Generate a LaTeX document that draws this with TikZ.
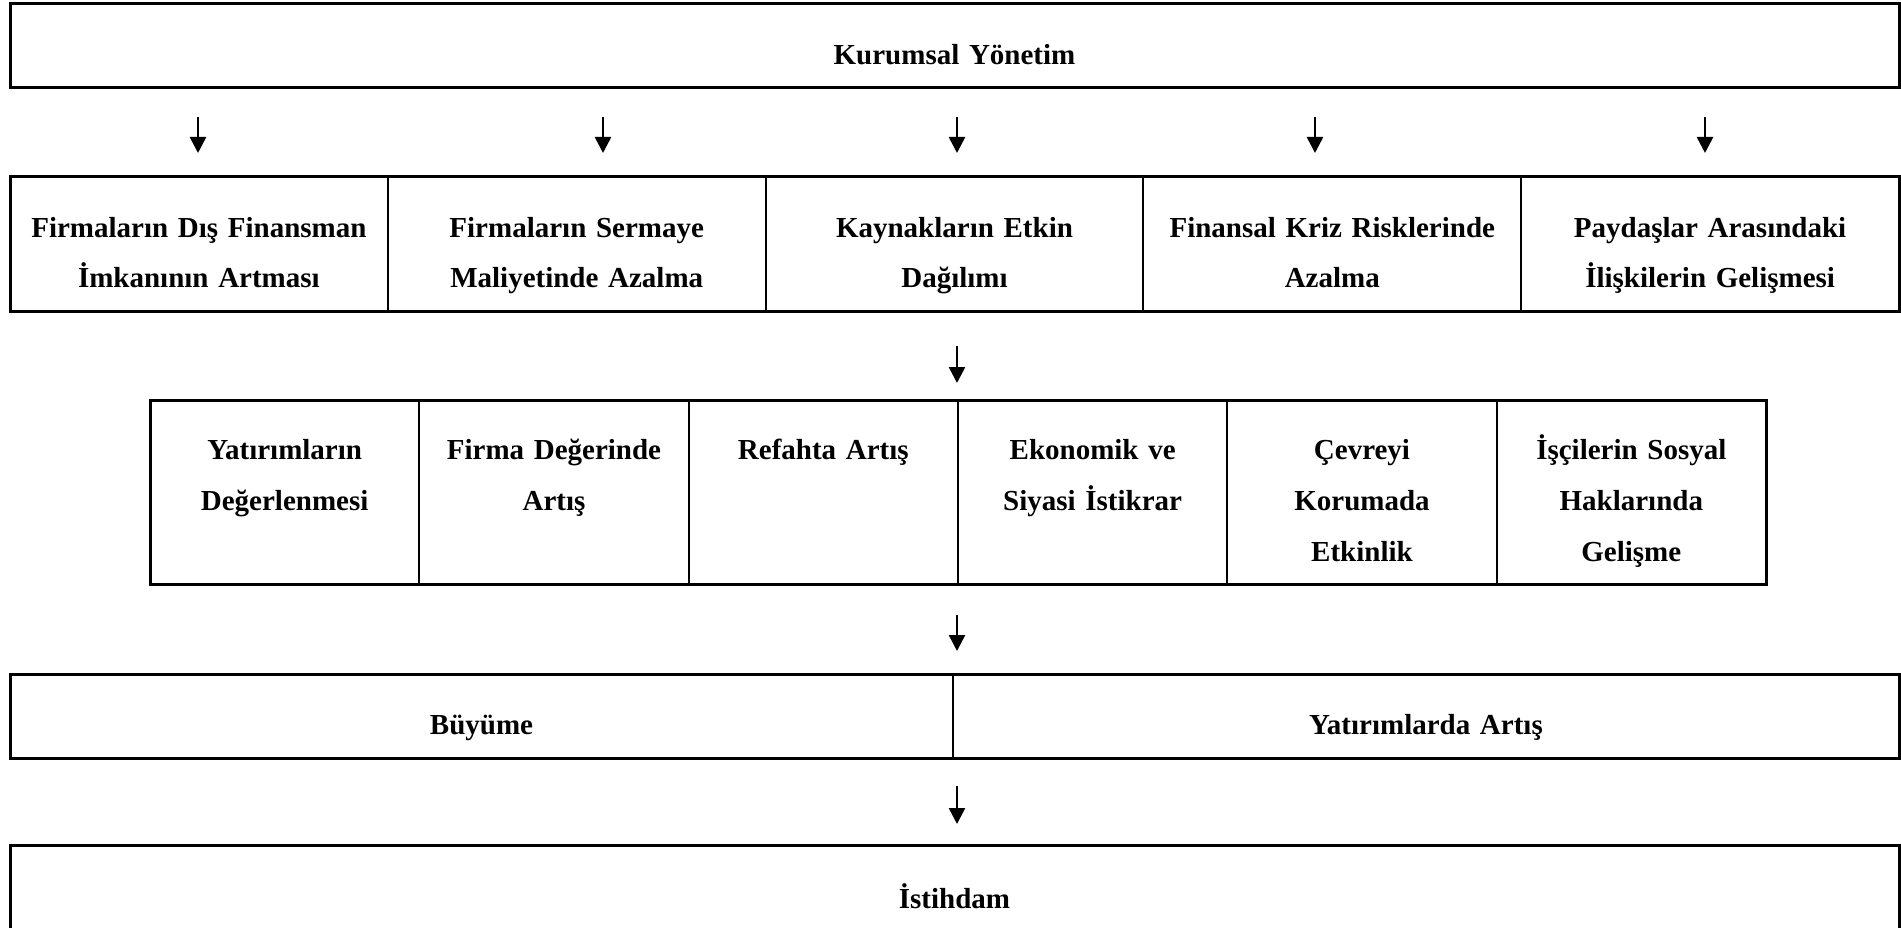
\documentclass[tikz,border=0pt]{standalone}
\usepackage{fontspec}
\setmainfont{Liberation Serif}
\usetikzlibrary{arrows.meta,calc}
\begin{document}
\begin{tikzpicture}[x=1pt,y=-1pt,
  cell/.style={draw, line width=2pt, inner sep=0pt, outer sep=0pt, anchor=north west},
  frame/.style={line width=3pt},
  txt/.style={font=\bfseries\fontsize{29}{51}\selectfont, align=center,
              text width=#1, inner sep=0pt, anchor=base},
  arr/.style={line width=2.6pt, -{Triangle[length=16pt,width=16pt]}}]
\fill[white] (0,0) rectangle (1901,928);
\useasboundingbox (0,0) rectangle (1901,928);

% columns where the arrows run
\coordinate (a1) at (198,0);
\coordinate (a2) at (603,0);
\coordinate (a3) at (957,0);
\coordinate (a4) at (1315,0);
\coordinate (a5) at (1705,0);

% top box
\node[cell, minimum width=1889pt, minimum height=84pt] (kur) at (10,4) {};
\draw[frame] (kur.north west) rectangle (kur.south east);
\node[txt=600pt] (kurt) at ([yshift=-61pt]kur.north) {Kurumsal Yönetim};

% second row: five cells
\node[cell, minimum width=377.8pt, minimum height=134pt] (f1) at (10,177) {};
\node[cell, minimum width=377.8pt, minimum height=134pt] (f2) at (f1.north east) {};
\node[cell, minimum width=377.8pt, minimum height=134pt] (f3) at (f2.north east) {};
\node[cell, minimum width=377.8pt, minimum height=134pt] (f4) at (f3.north east) {};
\node[cell, minimum width=377.8pt, minimum height=134pt] (f5) at (f4.north east) {};
\draw[frame] (f1.north west) rectangle (f5.south east);
\node[txt=370pt] (f1t) at ([yshift=-60pt]f1.north) {Firmaların Dış Finansman\\İmkanının Artması};
\node[txt=370pt] (f2t) at ([yshift=-60pt]f2.north) {Firmaların Sermaye\\Maliyetinde Azalma};
\node[txt=370pt] (f3t) at ([yshift=-60pt]f3.north) {Kaynakların Etkin\\Dağılımı};
\node[txt=370pt] (f4t) at ([yshift=-60pt]f4.north) {Finansal Kriz Risklerinde\\Azalma};
\node[txt=370pt] (f5t) at ([yshift=-60pt]f5.north) {Paydaşlar Arasındaki\\İlişkilerin Gelişmesi};

% third row: six cells
\node[cell, minimum width=269.33pt, minimum height=184pt] (s1) at (150,400) {};
\node[cell, minimum width=269.33pt, minimum height=184pt] (s2) at (s1.north east) {};
\node[cell, minimum width=269.33pt, minimum height=184pt] (s3) at (s2.north east) {};
\node[cell, minimum width=269.33pt, minimum height=184pt] (s4) at (s3.north east) {};
\node[cell, minimum width=269.33pt, minimum height=184pt] (s5) at (s4.north east) {};
\node[cell, minimum width=269.33pt, minimum height=184pt] (s6) at (s5.north east) {};
\draw[frame] (s1.north west) rectangle (s6.south east);
\node[txt=262pt] (s1t) at ([yshift=-59pt]s1.north) {Yatırımların\\Değerlenmesi};
\node[txt=262pt] (s2t) at ([yshift=-59pt]s2.north) {Firma Değerinde\\Artış};
\node[txt=262pt] (s3t) at ([yshift=-59pt]s3.north) {Refahta Artış};
\node[txt=262pt] (s4t) at ([yshift=-59pt]s4.north) {Ekonomik ve\\Siyasi İstikrar};
\node[txt=262pt] (s5t) at ([yshift=-59pt]s5.north) {Çevreyi\\Korumada\\Etkinlik};
\node[txt=262pt] (s6t) at ([yshift=-59pt]s6.north) {İşçilerin Sosyal\\Haklarında\\Gelişme};

% fourth row: two cells
\node[cell, minimum width=943pt, minimum height=84pt] (b1) at (10,674) {};
\node[cell, minimum width=946pt, minimum height=84pt] (b2) at (b1.north east) {};
\draw[frame] (b1.north west) rectangle (b2.south east);
\node[txt=600pt] (b1t) at ([yshift=-60pt]b1.north) {Büyüme};
\node[txt=600pt] (b2t) at ([yshift=-60pt]b2.north) {Yatırımlarda Artış};

% bottom box
\node[cell, minimum width=1889pt, minimum height=86pt] (ist) at (10,845) {};
\draw[frame] (ist.north west) rectangle (ist.south east);
\node[txt=600pt] (istt) at ([yshift=-63pt]ist.north) {İstihdam};

% arrows
\draw[arr, shorten <=29pt, shorten >=24pt] (kur.south -| a1) -- (f1.north -| a1);
\draw[arr, shorten <=29pt, shorten >=24pt] (kur.south -| a2) -- (f2.north -| a2);
\draw[arr, shorten <=29pt, shorten >=24pt] (kur.south -| a3) -- (f3.north -| a3);
\draw[arr, shorten <=29pt, shorten >=24pt] (kur.south -| a4) -- (f4.north -| a4);
\draw[arr, shorten <=29pt, shorten >=24pt] (kur.south -| a5) -- (f5.north -| a5);
\draw[arr, shorten <=35pt, shorten >=17pt] (f3.south -| a3) -- (s4.north -| a3);
\draw[arr, shorten <=31pt, shorten >=23pt] (s4.south -| a3) -- (b2.north -| a3);
\draw[arr, shorten <=28pt, shorten >=21pt] (b2.south -| a3) -- (ist.north -| a3);
\end{tikzpicture}
\end{document}
